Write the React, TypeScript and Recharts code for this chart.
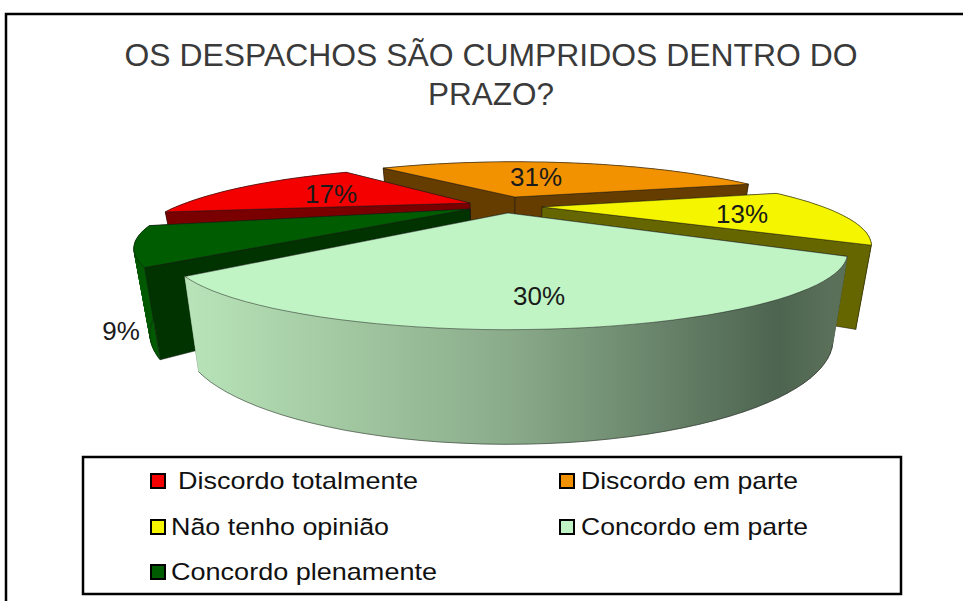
import React from 'react';
import { PieChart, Pie, Legend } from 'recharts';

const categories = ['Discordo totalmente', 'Discordo em parte', 'Não tenho opinião', 'Concordo em parte', 'Concordo plenamente'];
const shares = [17, 31, 13, 30, 9];
const topColors = ['#f50000', '#f39200', '#f5f500', '#c0f4c4', '#005c00'];
const wallColors = ['#7a0000', '#663d00', '#666600', 'url(#sideFade)', '#003300'];
const rimColors = ['#7a0000', '#663d00', '#666600', 'url(#sideFade)', '#005a00'];
const titleLines = ['OS DESPACHOS SÃO CUMPRIDOS DENTRO DO', 'PRAZO?'];

// layout of the exploded, perspective pie
const CX = 508, CY = 213, RADIUS = 290;
const TILT = 0.52, FLATTEN = 56;
const explode = [[-38, -10], [7, -16], [34, -6], [0, 0], [-38, -4]];
const radiusScale = [0.98, 0.955, 0.97, 1, 0.99];
const startNudge = [0, 4, 1, -2.5, 2];
const endNudge = [0.5, 0, 0, 4.5, 6.4];
const labelOffset = [[-139, -9], [21, -20], [200, 7], [31, 83], [-349, 122]];
const paintOrder = [1, 0, 2, 4, 3];
const legendSpots = [
  { sx: 151, tx: 178, y: 481, w: 240 },
  { sx: 560, tx: 581, y: 481, w: 217 },
  { sx: 151, tx: 171, y: 527, w: 218 },
  { sx: 560, tx: 581, y: 527, w: 227 },
  { sx: 151, tx: 171, y: 572, w: 266 },
];
const FONT = '"Liberation Sans", Arial, sans-serif';

type P = [number, number];

const project = (ax: number, ay: number, r: number, deg: number): P => {
  const a = (deg * Math.PI) / 180;
  const u = Math.cos(a);
  const v = -Math.sin(a);
  const den = 1 - TILT * v;
  const k = r / RADIUS;
  return [ax + (r * u) / den, ay + (k * FLATTEN * v) / den];
};
const drop = ([x, y]: P): P => [CX + (x - CX) * 0.957, y + 72.6 + 0.36 * (y - CY)];
const path = (pts: P[]) => 'M' + pts.map((p) => `${p[0].toFixed(1)},${p[1].toFixed(1)}`).join('L') + 'Z';
const open = (pts: P[]) => 'M' + pts.map((p) => `${p[0].toFixed(1)},${p[1].toFixed(1)}`).join('L');

// a radial wall faces the viewer when the slice's own rim lies above it on screen
const facesViewer = (a: P, e: P, m: P) => ((e[0] - a[0]) * (m[1] - a[1]) - (e[1] - a[1]) * (m[0] - a[0])) / (e[0] - a[0]) < 0;

const Slice = (props: any) => {
  const { cx, cy, outerRadius, startAngle, endAngle, index } = props;
  const ax = cx + explode[index][0];
  const ay = cy + explode[index][1];
  const apex: P = [ax, ay];
  const r = outerRadius * radiusScale[index];
  const from = startAngle + startNudge[index];
  const to = endAngle + endNudge[index];
  const arc: P[] = [];
  const steps = 48;
  for (let i = 0; i <= steps; i++) {
    arc.push(project(ax, ay, r, from + ((to - from) * i) / steps));
  }
  const mid = arc[steps / 2];
  const edge = { stroke: '#1a1a1a', strokeWidth: 0.5, strokeLinejoin: 'round' as const };
  const wall = (e: P, key: string) => (
    <path key={key} d={path([apex, e, drop(e), drop(apex)])} fill={wallColors[index]} {...edge} />
  );
  const ends: [P, string][] = [[arc[0], 'a'], [arc[steps], 'b']];
  // the rim is the union of one quad per arc step, so its silhouette stays filled where the arc turns
  const rimQuads = arc
    .slice(0, -1)
    .map((p, i) => {
      const quad: P[] = [p, arc[i + 1], drop(arc[i + 1]), drop(p)];
      const area = (quad[1][0] - quad[0][0]) * (quad[2][1] - quad[0][1]) - (quad[1][1] - quad[0][1]) * (quad[2][0] - quad[0][0]);
      return path(area < 0 ? [...quad].reverse() : quad);
    })
    .join(' ');
  return (
    <g>
      {ends.filter(([e]) => !facesViewer(apex, e, mid)).map(([e, k]) => wall(e, k))}
      <path d={rimQuads} fill={rimColors[index]} stroke={rimColors[index]} strokeWidth={0.6} />
      <path d={open(arc.map(drop))} fill="none" {...edge} />
      {ends.filter(([e]) => facesViewer(apex, e, mid)).map(([e, k]) => wall(e, k))}
      <path d={path([apex, ...arc])} fill={topColors[index]} {...edge} />
    </g>
  );
};

const PercentLabel = (props: any) => {
  const { cx, cy, index, value } = props;
  const x = cx + explode[index][0] + labelOffset[index][0];
  const y = cy + explode[index][1] + labelOffset[index][1];
  return (
    <text x={x} y={y} textAnchor="middle" dominantBaseline="central" fontFamily={FONT} fontSize={26} fill="#1a1a1a">
      {value}%
    </text>
  );
};

const LegendBox = () => (
  <svg width={963} height={601} style={{ display: 'block' }}>
    <rect x={83} y={457} width={818} height={137} fill="#fff" stroke="#000" strokeWidth={2.5} />
    {categories.map((name, i) => (
      <g key={name}>
        <rect x={legendSpots[i].sx} y={legendSpots[i].y - 7} width={14} height={14} fill={topColors[i]} stroke="#000" strokeWidth={2} />
        <text x={legendSpots[i].tx} y={legendSpots[i].y + 8} fontFamily={FONT} fontSize={24} fill="#111" textLength={legendSpots[i].w} lengthAdjust="spacingAndGlyphs">
          {name}
        </text>
      </g>
    ))}
  </svg>
);

const rows = categories.map((name, i) => ({ name, value: shares[i] }));

export default function App() {
  return (
    <div style={{ position: 'absolute', left: 0, top: 0, width: 963, height: 601, background: '#fff' }}>
      <PieChart width={963} height={601} margin={{ top: 0, right: 0, bottom: 0, left: 0 }}>
        <defs>
          <linearGradient id="sideFade" gradientUnits="userSpaceOnUse" x1={190} y1={0} x2={830} y2={0}>
            <stop offset="0" stopColor="#b8e3b8" />
            <stop offset="0.5" stopColor="#8aab8a" />
            <stop offset="0.92" stopColor="#4d6450" />
            <stop offset="1" stopColor="#5a7059" />
          </linearGradient>
        </defs>
        <rect x={6} y={14} width={970} height={600} fill="#fff" stroke="#000" strokeWidth={2.5} />
        <text x={491} y={66} textAnchor="middle" fontFamily={FONT} fontSize={31} fill="#3a3a3a" textLength={733} lengthAdjust="spacingAndGlyphs">
          {titleLines[0]}
        </text>
        <text x={491} y={105} textAnchor="middle" fontFamily={FONT} fontSize={31} fill="#3a3a3a" textLength={126} lengthAdjust="spacingAndGlyphs">
          {titleLines[1]}
        </text>
        {paintOrder.map((layer) => (
          <Pie
            key={layer}
            data={rows}
            dataKey="value"
            nameKey="name"
            cx={CX}
            cy={CY}
            innerRadius={0}
            outerRadius={RADIUS}
            startAngle={188.6}
            endAngle={-171.4}
            isAnimationActive={false}
            legendType="none"
            label={false}
            shape={(p: any) => (p.index === layer ? <Slice {...p} /> : <g />)}
          />
        ))}
        <Pie
          data={rows}
          dataKey="value"
          nameKey="name"
          cx={CX}
          cy={CY}
          innerRadius={0}
          outerRadius={RADIUS}
          startAngle={188.6}
          endAngle={-171.4}
          isAnimationActive={false}
          legendType="none"
          fill="none"
          stroke="none"
          labelLine={false}
          label={PercentLabel}
          shape={() => <g />}
        />
        <Legend content={LegendBox} wrapperStyle={{ position: 'absolute', left: 0, top: 0, width: 963, height: 601, pointerEvents: 'none' }} />
      </PieChart>
    </div>
  );
}
